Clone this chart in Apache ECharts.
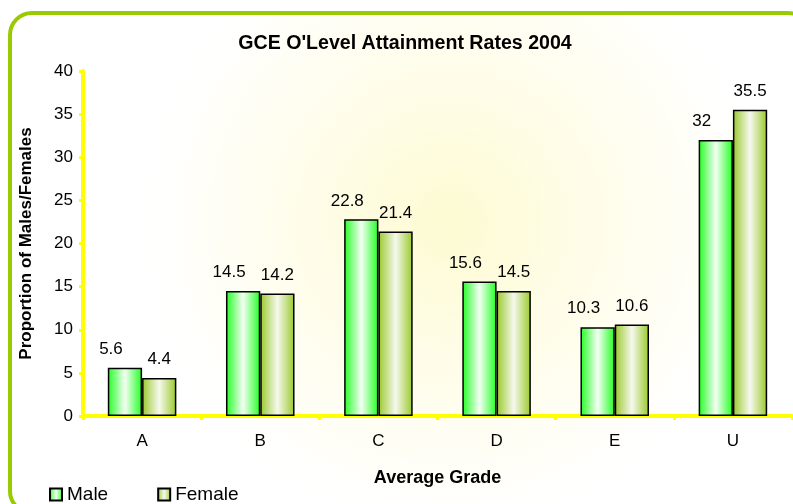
<!DOCTYPE html>
<html><head><meta charset="utf-8">
<script src="https://cdn.jsdelivr.net/npm/echarts@6/dist/echarts.min.js"></script>
<style>html,body{margin:0;padding:0;background:#fff}#c{width:793px;height:504px}</style>
</head><body><div id="c"></div>
<script>
const categories = ['A','B','C','D','E','U'];
const maleValues = [5.6, 14.5, 22.8, 15.6, 10.3, 32];
const femaleValues = [4.4, 14.2, 21.4, 14.5, 10.6, 35.5];
const yTicks = [0, 5, 10, 15, 20, 25, 30, 35, 40];

const FONT = 'Liberation Sans, Arial, sans-serif';
function hGrad(edge, mid){
  return new echarts.graphic.LinearGradient(0,0,1,0,[
    {offset:0,color:edge},{offset:0.5,color:mid},{offset:1,color:edge}]);
}
const maleFill = hGrad('#22ff22','#f4fff4');
const femaleFill = hGrad('#99c92a','#f6f8ee');

const chart = echarts.init(document.getElementById('c'), null, {renderer:'canvas'});
chart.setOption({
  animation:false,
  graphic:[{
    type:'rect', z:-10, silent:true,
    shape:{x:10, y:13, width:800, height:500, r:22},
    style:{
      fill:new echarts.graphic.RadialGradient(0.55,0.42,0.6,[
        {offset:0,color:'#fdfbd2'},{offset:0.5,color:'#fffdea'},{offset:1,color:'#ffffff'}]),
      stroke:'#99cc00', lineWidth:4
    }
  }],
  title:{
    text:"GCE O'Level Attainment Rates 2004",
    left:400, top:29, textAlign:'center',
    textStyle:{fontFamily:FONT,fontSize:19.6,fontWeight:'bold',color:'#000'}
  },
  legend:{
    left:49, top:485, padding:0, itemWidth:12, itemHeight:12, itemGap:49,
    icon:'rect',
    textStyle:{fontFamily:FONT,fontSize:19,color:'#000',padding:[0,0,0,0]},
    data:['Male','Female']
  },
  grid:{left:83, right:1, top:71, bottom:88, containLabel:false},
  xAxis:{
    type:'category', data:categories,
    name:'Average Grade', nameLocation:'middle', nameGap:53,
    nameTextStyle:{fontFamily:FONT,fontSize:18,fontWeight:'bold',color:'#000'},
    axisLine:{lineStyle:{color:'#ffff00',width:4}},
    axisTick:{show:true,length:4,lineStyle:{color:'#ffff00',width:3}},
    axisLabel:{fontFamily:FONT,fontSize:17,color:'#000',margin:17}
  },
  yAxis:{
    type:'value', min:yTicks[0], max:yTicks[yTicks.length-1], interval:5,
    name:'Proportion of Males/Females', nameLocation:'middle', nameGap:48,
    nameTextStyle:{fontFamily:FONT,fontSize:17,fontWeight:'bold',color:'#000'},
    axisLine:{show:true,lineStyle:{color:'#ffff00',width:4}},
    axisTick:{show:true,length:4,lineStyle:{color:'#ffff00',width:3}},
    splitLine:{show:false},
    axisLabel:{fontFamily:FONT,fontSize:17,color:'#000',margin:10}
  },
  series:[{
    name:'Male', type:'bar', data:maleValues,
    barGap:'0%', barCategoryGap:'42%',
    itemStyle:{color:maleFill,borderColor:'#000',borderWidth:1.5},
    label:{show:true,position:'top',distance:10,offset:[-14,0],
      fontFamily:FONT,fontSize:17,color:'#000'}
  },{
    name:'Female', type:'bar', data:femaleValues,
    itemStyle:{color:femaleFill,borderColor:'#000',borderWidth:1.5},
    label:{show:true,position:'top',distance:10,
      fontFamily:FONT,fontSize:17,color:'#000'}
  }]
});
</script></body></html>
